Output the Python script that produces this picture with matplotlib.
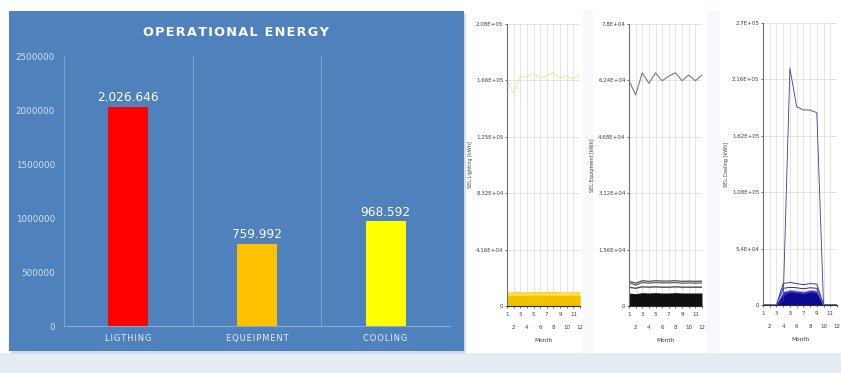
import matplotlib
matplotlib.use('Agg')
import matplotlib.pyplot as plt
from matplotlib.patches import Rectangle

# main bar chart
categories = ['LIGTHING', 'EQUEIPMENT', 'COOLING']
energy = [2026646, 759992, 968592]
bar_colors = ['#FF0000', '#FFC000', '#FFFF00']
energy_yticks = [0, 500000, 1000000, 1500000, 2000000, 2500000]

# monthly simulation plots
months = list(range(1, 13))

lighting_peak = [166700, 157000, 169000, 169000, 171600, 168000, 170000, 172000, 168000, 169500, 167500, 171000]
lighting_band_top = [9600, 9800, 9900, 9700, 10000, 9800, 9900, 10100, 9800, 9700, 9900, 9800]
lighting_band_mid = [7600, 7700, 7900, 7700, 8000, 7800, 7900, 8000, 7800, 7700, 7900, 7800]
lighting_yticks = [0, 41600, 83200, 124800, 166400, 208000]

equip_peak = [62400, 58400, 64500, 61600, 64500, 62300, 63600, 64500, 62300, 63900, 62300, 63900]
equip_upper = [6900, 6300, 7000, 6800, 7000, 6900, 6900, 7000, 6800, 6900, 6800, 6900]
equip_upper2 = [6400, 5800, 6500, 6300, 6500, 6400, 6400, 6500, 6300, 6400, 6300, 6400]
equip_mid = [5200, 4900, 5300, 5200, 5300, 5200, 5200, 5300, 5200, 5200, 5200, 5200]
equip_band_top = [3600, 3400, 3700, 3600, 3700, 3600, 3600, 3700, 3600, 3600, 3600, 3600]
equip_yticks = [0, 15600, 31200, 46800, 62400, 78000]

cool_peak = [0, 0, 0, 4000, 226600, 189900, 186700, 186700, 184100, 0, 0, 0]
cool_upper = [0, 0, 0, 20500, 21700, 20500, 19500, 20500, 20000, 0, 0, 0]
cool_mid = [0, 0, 0, 16000, 16900, 16500, 15500, 16500, 16000, 0, 0, 0]
cool_mid2 = [0, 0, 800, 12500, 14000, 13500, 12500, 14000, 13500, 0, 0, 0]
cool_band_top = [0, 0, 1500, 9000, 12000, 11500, 10500, 12000, 11500, 0, 0, 0]
cool_yticks = [0, 54000, 108000, 162000, 216000, 270000]

W, H = 841, 373
fig = plt.figure(figsize=(W / 100, H / 100), dpi=100)
fig.patch.set_facecolor('white')


def fig_box(x0, y0, x1, y1):
    # pixel box (top-left origin) -> figure fraction rect
    return [x0 / W, 1 - y1 / H, (x1 - x0) / W, (y1 - y0) / H]


def add_rect(x0, y0, x1, y1, color, z=0):
    l, b, w, h = fig_box(x0, y0, x1, y1)
    fig.add_artist(Rectangle((l, b), w, h, transform=fig.transFigure,
                             facecolor=color, edgecolor='none', zorder=z))


# page background bits
add_rect(0, 353, W, H, '#E6ECF6', z=-5)
add_rect(583, 10, 593, 353, '#F7F9FC', z=-5)
add_rect(707, 10, 720, 353, '#F7F9FC', z=-5)
add_rect(11, 13, 466, 354, '#D3DDEB', z=-4)
add_rect(9, 11, 464, 351, '#4F81BD', z=-3)

# ---- left bar chart ----
ax = fig.add_axes(fig_box(64, 56, 450, 326))
ax.patch.set_visible(False)
x = list(range(len(categories)))
ax.bar(x, energy, width=0.31, color=bar_colors, zorder=3)
for xi, v in zip(x, energy):
    ax.annotate(f'{v:,}'.replace(',', '.'), (xi, v), xytext=(0, 2), textcoords='offset points',
                ha='center', va='bottom', color='white', fontsize=8.7)
ax.set_xlim(-0.5, 2.5)
ax.set_ylim(0, 2500000)
ax.set_yticks(energy_yticks)
ax.set_yticklabels([str(t) for t in energy_yticks], fontsize=6.3, color='#D9E3F1')
ax.set_xticks(x)
ax.set_xticklabels(['\u200a'.join(c) for c in categories], fontsize=6, color='#E8EEF7')
ax.tick_params(length=0)
ax.tick_params(axis='y', pad=6.5)
ax.tick_params(axis='x', pad=6)
for s in ['top', 'right', 'left']:
    ax.spines[s].set_visible(False)
ax.spines['bottom'].set_color('#86A7D2')
ax.spines['bottom'].set_linewidth(0.8)
for bx in [-0.5, 0.5, 1.5, 2.5]:
    ax.axvline(bx, color='#7EA1CF', lw=0.7, zorder=1)

fig.text(236 / W, 1 - 32 / H, '\u200a'.join('OPERATIONAL ENERGY'), ha='center', va='center',
         color='white', fontsize=9.3, fontweight='bold')


# ---- small simulation panels ----
def sci_label(v):
    if v == 0:
        return '0'
    mant, ex = f'{v:.2E}'.split('E')
    mant = mant.rstrip('0').rstrip('.')
    return f'{mant}E{ex}'


def setup_panel(box, yticks, ylabel):
    a = fig.add_axes(fig_box(*box))
    a.set_xlim(1, 12)
    a.set_ylim(0, yticks[-1])
    a.set_yticks(yticks)
    a.set_yticklabels([sci_label(t) for t in yticks], fontsize=4, color='#404040')
    odd = [m for m in months if m % 2]
    even = [m for m in months if not m % 2]
    a.set_xticks(odd)
    a.set_xticklabels([str(m) for m in odd], fontsize=4, color='#404040')
    a.set_xticks(even, minor=True)
    a.set_xticklabels([str(m) for m in even], minor=True, fontsize=4, color='#404040')
    a.tick_params(axis='x', which='major', length=1.5, width=0.4, pad=3)
    a.tick_params(axis='x', which='minor', length=1.5, width=0.4, pad=12)
    a.tick_params(axis='y', length=1.5, width=0.4, pad=1)
    for m in months:
        a.axvline(m, color='#DADADA', lw=0.5, zorder=0)
    for t in yticks[1:]:
        a.axhline(t, color='#DADADA', lw=0.5, zorder=0)
    for s in ['top', 'right']:
        a.spines[s].set_visible(False)
    a.spines['left'].set_color('#707070')
    a.spines['bottom'].set_color('#303030')
    a.spines['left'].set_linewidth(0.8)
    a.spines['bottom'].set_linewidth(0.8)
    a.set_ylabel(ylabel, fontsize=3.5, color='#404040', labelpad=2)
    a.set_xlabel('Month', fontsize=4.2, color='#404040', labelpad=6)
    return a


ax1 = setup_panel((507, 24, 580, 306), lighting_yticks, 'SEL:Lighting [kWh]')
ax1.plot(months, lighting_peak, color='#F5E48E', lw=0.7)
ax1.fill_between(months, 0, lighting_band_top, color='#FFDF3A', lw=0)
ax1.fill_between(months, 0, lighting_band_mid, color='#F2C200', lw=0)
ax1.plot(months, lighting_band_top, color='#F5C800', lw=0.6)

ax2 = setup_panel((629, 24, 702, 306), equip_yticks, 'SEL:Equipment [kWh]')
ax2.plot(months, equip_peak, color='#7A7A7A', lw=0.8)
ax2.plot(months, equip_upper, color='#505050', lw=0.9)
ax2.plot(months, equip_upper2, color='#606060', lw=0.9)
ax2.plot(months, equip_mid, color='#505050', lw=1.0)
ax2.fill_between(months, 0, equip_band_top, color='#101010', lw=0)

ax3 = setup_panel((763, 23, 837, 305), cool_yticks, 'SEL:Cooling [kWh]')
ax3.plot(months, cool_peak, color='#3A3AA8', lw=0.6)
ax3.plot(months, cool_upper, color='#3535A5', lw=0.7)
ax3.plot(months, cool_mid, color='#2A2AA0', lw=0.7)
ax3.fill_between(months, 0, cool_mid2, color='#2F2FB0', lw=0)
ax3.plot(months, cool_mid2, color='#8A8AD8', lw=0.5)
ax3.fill_between(months, 0, cool_band_top, color='#0A0A90', lw=0)

fig.savefig('out.png', dpi=100)
